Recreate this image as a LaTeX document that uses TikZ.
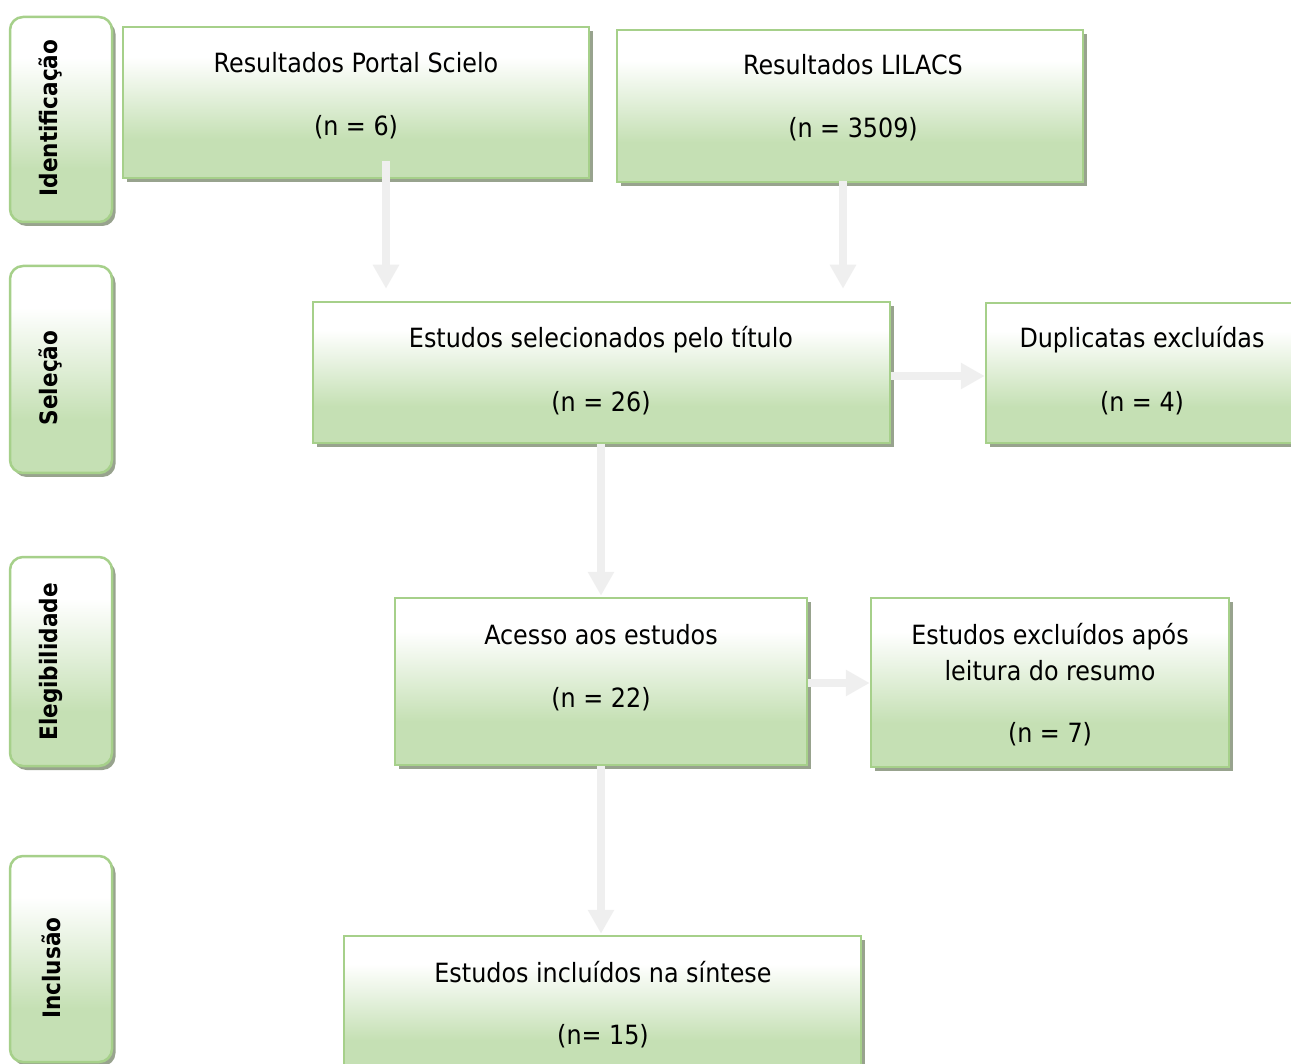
\documentclass[tikz,border=0pt]{standalone}
\usepackage{fontspec}
\setmainfont{DejaVu Sans Condensed}
\usetikzlibrary{arrows.meta,shadows,calc}
\definecolor{bord}{HTML}{A6D08A}
\definecolor{boxg}{HTML}{C5E0B4}
\definecolor{shad}{HTML}{98A38E}
\definecolor{arr}{HTML}{EFEFEF}
\tikzset{
  gradfill/.style={path picture={
    \fill[boxg, sharp corners] (path picture bounding box.south west) rectangle (path picture bounding box.north east);
    \shade[top color=white, bottom color=boxg, sharp corners]
      ($(path picture bounding box.north west)!0.2!(path picture bounding box.south west)$) rectangle
      ($(path picture bounding box.north east)!0.74!(path picture bounding box.south east)$);
    \fill[white, sharp corners] (path picture bounding box.north west) rectangle
      ($(path picture bounding box.north east)!0.2!(path picture bounding box.south east)$);
  }},
  stagebox/.style={rectangle, draw=bord, line width=2.5pt, fill=white, gradfill, inner sep=0pt,
    drop shadow={shadow xshift=3.5pt, shadow yshift=-4pt, fill=shad, opacity=1}},
  sidebox/.style={stagebox, rounded corners=13pt},
  txt/.style={anchor=base, inner sep=0pt, font=\fontsize{26.5}{30}\selectfont},
  sidetxt/.style={rotate=90, inner sep=0pt, font=\fontsize{24}{28}\selectfont\bfseries},
  flow/.style={draw=arr, line width=8pt, -{Triangle[width=25pt,length=24pt]}, arr}
}
\begin{document}
\begin{tikzpicture}[x=1pt,y=-1pt]
\useasboundingbox (0,0) rectangle (1291,1064);
% side labels
\node[sidebox, minimum width=102pt, minimum height=205pt] (S1) at (61,119.5) {};
\node[sidebox, minimum width=102pt, minimum height=207pt] (S2) at (61,369.5) {};
\node[sidebox, minimum width=102pt, minimum height=209pt] (S3) at (61,661.5) {};
\node[sidebox, minimum width=102pt, minimum height=206pt] (S4) at (61,959) {};
\node[sidetxt] (L1) at (51,118) {Identificação};
\node[sidetxt] (L2) at (51,378) {Seleção};
\node[sidetxt] (L3) at (51,662) {Elegibilidade};
\node[sidetxt] (L4) at (51,968) {Inclusão};
% boxes
\node[stagebox, minimum width=466pt, minimum height=151pt] (A) at (356,102.5) {};
\node[stagebox, minimum width=466pt, minimum height=152pt] (B) at (850,106) {};
\node[stagebox, minimum width=577pt, minimum height=141pt] (C) at (601.5,372.5) {};
\node[stagebox, minimum width=312pt, minimum height=140pt] (D) at (1142,373) {};
\node[stagebox, minimum width=412pt, minimum height=167pt] (E) at (601,681.5) {};
\node[stagebox, minimum width=358pt, minimum height=169pt] (F) at (1050,682.5) {};
\node[stagebox, minimum width=517pt, minimum height=141pt] (G) at (602.5,1006.5) {};
% texts
\node[txt] (A1) at (356,73) {Resultados Portal Scielo};
\node[txt] (A2) at (356,136) {(n = 6)};
\node[txt] (B1) at (853,75) {Resultados LILACS};
\node[txt] (B2) at (853,138) {(n = 3509)};
\node[txt] (C1) at (601,348) {Estudos selecionados pelo título};
\node[txt] (C2) at (601,412) {(n = 26)};
\node[txt] (D1) at (1142,348) {Duplicatas excluídas};
\node[txt] (D2) at (1142,412) {(n = 4)};
\node[txt] (E1) at (601,644) {Acesso aos estudos};
\node[txt] (E2) at (601,707) {(n = 22)};
\node[txt] (F1) at (1050,644) {Estudos excluídos após};
\node[txt] (F2) at (1050,680) {leitura do resumo};
\node[txt] (F3) at (1050,742) {(n = 7)};
\node[txt] (G1) at (603,982) {Estudos incluídos na síntese};
\node[txt] (G2) at (603,1044) {(n= 15)};
% arrows
\draw[flow] ([xshift=30pt,yshift=18pt]A.south) -- ([xshift=-215.5pt,yshift=12pt]C.north);
\draw[flow] ([xshift=-7pt,yshift=2pt]B.south) -- ([xshift=241.5pt,yshift=12pt]C.north);
\draw[flow] ([yshift=-3.5pt]C.east) -- ([yshift=-3pt]D.west);
\draw[flow] ([xshift=-0.5pt]C.south) -- ([yshift=1pt]E.north);
\draw[flow] ([yshift=-1.5pt]E.east) -- ([yshift=-0.5pt]F.west);
\draw[flow] (E.south) -- ([xshift=-1.5pt,yshift=1pt]G.north);
\end{tikzpicture}
\end{document}
